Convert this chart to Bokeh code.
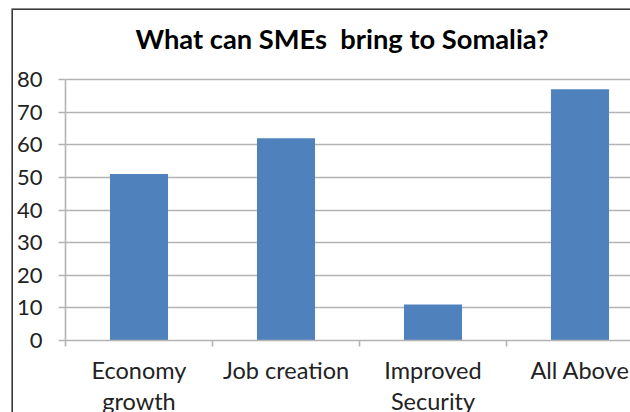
from bokeh.plotting import figure
from bokeh.models import Range1d, FixedTicker, Label, GlobalInlineStyleSheet
from bokeh.embed import file_html
from bokeh.resources import INLINE

# ---- data ----
categories = ["Economy\ngrowth", "Job creation", "Improved\nSecurity", "All Above"]
values = [51, 62, 11, 77]
y_ticks = [0, 10, 20, 30, 40, 50, 60, 70, 80]
title_text = "What can SMEs\u00a0 bring to Somalia?"

FONT = "Lato"
GRID = "#b3b3b3"
TXT = "#222222"

# ---- page layout (pixels) ----
ML, MT = 13, 10          # page offset of the chart canvas (outer border drawn just outside)
X0 = 65                  # page x of the y axis
Y0, Y80 = 340, 79        # page y of value 0 and value 80
CAT_PX = 147             # width of one category slot
W, H = 630 - ML + 4, 425 # canvas runs past the window on right/bottom (cropped like the reference)
TITLE_X, TITLE_BASE = 341.5, 38

px_per_unit = (Y0 - Y80) / y_ticks[-1]
y_top = (Y0 - MT) / px_per_unit
x_end = (ML + W - X0) / CAT_PX

centers = [i + 0.5 for i in range(len(categories))]
bounds = [float(i) for i in range(len(categories))]

p = figure(width=W, height=H, output_backend="svg", toolbar_location=None, title=None,
           x_range=Range1d(0, x_end), y_range=Range1d(0, y_top),
           min_border_left=X0 - ML, min_border_right=0,
           min_border_top=0, min_border_bottom=H - (Y0 - MT))
p.styles = {"margin-left": f"{ML}px", "margin-top": f"{MT}px",
            "box-shadow": "-1.6px -1.6px 0px 0px #3a3a3a"}
p.stylesheets = [GlobalInlineStyleSheet(css="html, body { overflow: hidden; margin: 0; }")]
p.outline_line_color = None
p.background_fill_color = "white"
p.border_fill_color = "white"

p.vbar(x=centers, top=values, width=0.395, bottom=0, fill_color="#4F81BD", line_color=None)

# title, drawn inside the (tall) frame above the 80 line
p.add_layout(Label(x=(TITLE_X - X0) / CAT_PX, y=(Y0 - TITLE_BASE) / px_per_unit,
                   text=title_text, text_align="center", text_baseline="alphabetic",
                   text_font=FONT, text_font_style="bold", text_font_size="27.3px",
                   text_color="black"))

# grid
p.xgrid.visible = False
p.ygrid.ticker = FixedTicker(ticks=y_ticks)
p.ygrid.grid_line_color = GRID
p.ygrid.grid_line_width = 1.6

# y axis
ya = p.yaxis[0]
ya.ticker = FixedTicker(ticks=y_ticks)
ya.bounds = (y_ticks[0], y_ticks[-1])
ya.axis_line_color = GRID
ya.axis_line_width = 1.6
ya.major_tick_line_color = GRID
ya.major_tick_line_width = 1.6
ya.major_tick_out = 7
ya.major_tick_in = 0
ya.minor_tick_line_color = None
ya.major_label_standoff = 16
ya.major_label_text_font = FONT
ya.major_label_text_font_size = "22px"
ya.major_label_text_color = TXT

# x axis
xa = p.xaxis[0]
xa.ticker = FixedTicker(ticks=centers, minor_ticks=bounds)
xa.major_label_overrides = {c: lab for c, lab in zip(centers, categories)}
xa.axis_line_color = GRID
xa.axis_line_width = 1.6
xa.major_tick_line_color = None
xa.minor_tick_line_color = GRID
xa.minor_tick_line_width = 1.6
xa.minor_tick_out = 6
xa.minor_tick_in = 0
xa.major_label_standoff = 9
xa.major_label_text_font = FONT
xa.major_label_text_font_size = "23.5px"
xa.major_label_text_color = TXT
xa.major_label_text_line_height = 1.12

open("out.html", "w").write(file_html(p, INLINE))
